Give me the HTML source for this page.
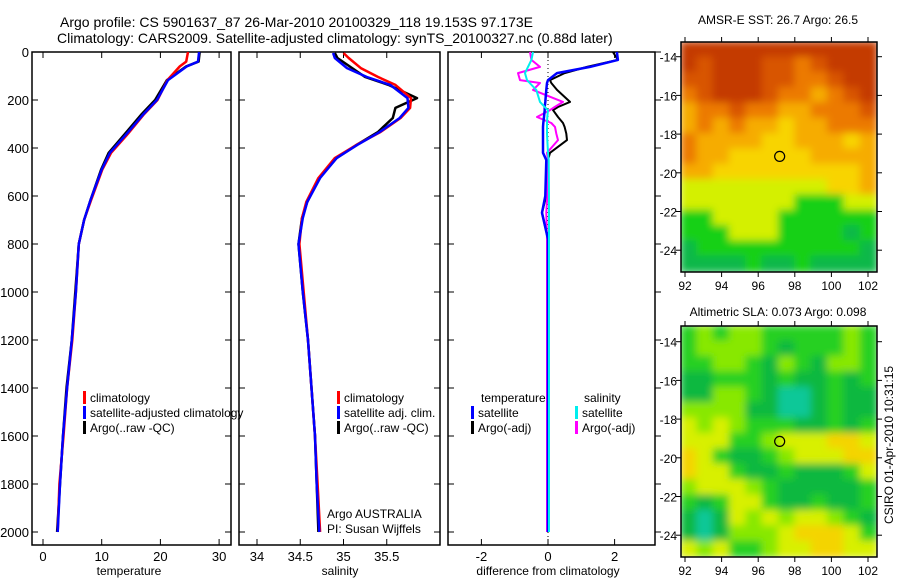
<!DOCTYPE html>
<html><head><meta charset="utf-8"><style>
body{margin:0;background:#fff}
svg text{font-family:"Liberation Sans",sans-serif;fill:#000}
</style></head><body>
<svg id="fig" width="900" height="580" xmlns="http://www.w3.org/2000/svg">
<text x="60" y="27" font-size="14">Argo profile: CS 5901637_87 26-Mar-2010 20100329_118 19.153S 97.173E</text>
<text x="57" y="43" font-size="14">Climatology: CARS2009. Satellite-adjusted climatology: synTS_20100327.nc (0.88d later)</text>
<text x="778" y="24" font-size="12" text-anchor="middle">AMSR-E SST: 26.7 Argo: 26.5</text>
<text x="778" y="316" font-size="12" text-anchor="middle">Altimetric SLA: 0.073 Argo: 0.098</text>
<text transform="translate(893,445) rotate(-90)" font-size="12" text-anchor="middle">CSIRO 01-Apr-2010 10:31:15</text>
<g id="g"></g>
</svg>
<script>
// ---- data ----
const depthTicks=[0,200,400,600,800,1000,1200,1400,1600,1800,2000];
const tempTicks=[0,10,20,30];
const salTicks=[34,34.5,35,35.5];
const diffTicks=[-2,0,2];
const lonTicks=[92,94,96,98,100,102];
const latTicks=[-14,-16,-18,-20,-22,-24];
// temperature profiles
const tDepth=[0,40,60,117,200,262,340,420,490,617,700,800,1000,1200,1400,1600,1800,2000];
const tBlue=[26.6,26.4,24.5,21.3,19.4,17,14.3,11.4,10,8.1,7,6.1,5.6,4.9,4.1,3.4,2.9,2.5];
const tRed=[24.7,24.4,23.3,21.2,19.5,17.1,14.5,11.6,10.1,8.2,7,6.1,5.6,5.0,4.1,3.5,2.8,2.5];
const tBlack=[26.7,26.5,24.4,21.1,19.1,16.7,14.0,11.2,9.9,8.1,7.0,6.1,5.5,4.9,4.0,3.4,2.9,2.4];
// salinity profiles
const sDepth=[4,25,67,104,137,192,233,275,333,387,442,525,625,692,800,1000,1200,1400,1600,1800,2000];
const sBlue=[34.88,34.9,35.04,35.27,35.54,35.74,35.75,35.65,35.42,35.16,34.92,34.73,34.58,34.53,34.48,34.53,34.59,34.63,34.67,34.69,34.72];
const sRed=[35.0,35.06,35.2,35.4,35.6,35.78,35.77,35.66,35.43,35.15,34.9,34.71,34.57,34.52,34.49,34.54,34.59,34.63,34.67,34.7,34.73];
const sBlack=[34.9,34.93,35.1,35.25,35.52,35.85,35.6,35.57,35.4,35.15,34.92,34.72,34.58,34.52,34.48,34.53,34.59,34.63,34.67,34.69,34.71];
// differences from climatology
const dDepth=[0,33,62,88,117,129,158,208,229,242,271,296,312,340,367,420,450,600,670,780,1000,1500,2000];
const dTempSat=[2.07,2.1,1.26,0.27,0.0,-0.03,-0.05,-0.08,-0.1,-0.1,-0.12,-0.14,-0.15,-0.15,-0.15,-0.15,-0.05,-0.08,-0.18,0,0,0,0];
const dTempArgo=[1.95,2.1,1.17,0.5,0.06,0.1,0.27,0.66,0.3,0.15,0.3,0.45,0.5,0.55,0.57,0.06,0,-0.05,-0.18,0,0,-0.02,0];
const dSalSat=[-0.45,-0.5,-0.6,-0.69,-0.63,-0.55,-0.35,-0.24,-0.1,0,-0.02,-0.03,-0.03,-0.03,-0.02,0,0.02,0.03,0.03,0.03,0.03,0.03,0.03];
const dSalArgo=[-0.54,-0.5,-0.24,-0.9,-0.84,-0.24,-0.45,0.45,0.2,0.06,-0.33,0.1,0.21,0.25,0.3,-0.03,0,-0.02,-0.05,-0.03,-0.03,-0.03,-0.03];
// maps (coarse colour classes)
const sstRows=["RRRRRRRRRRRR","RrRRRrrOrRRR","rrRRRrrOOrRR","OrRRRrOOAOrR","AOOrOOAAOOOr","AOAOAAYAAOOO","OAAAAYYAAAYA","OAAYYYYYAAAA","AAYYYYYYYYYA","LLLLLLLLLYYA","LLLLLLLGGGLL","GGLLLLGGGGGG","GGGLLLGGGGDG","DGGGGGGGGGGD","DDDDGDDGDDDD"];
const slaRows=["GLGLLGGGGGLG","GLLLLGDGGGLG","GGLLGDLGDLLG","DDGGGDGDDGDG","DDLLGDTTDGDD","LLLLDDTTDGDD","YLYLGGGDDGDG","YYYGGLYYYAAY","AYGDDGLYYYAA","AYYGDDGDDDGY","LYYYLGDDDDDG","GDGYYGDDGDDG","DTDYLYLYYLGD","DTDLLLYAAAYG","YLYGGLYYAAYY"];
const argoLon=97.173, argoLat=-19.153;

const NS="http://www.w3.org/2000/svg";
const g=document.getElementById('g');
function el(t,a,p){const e=document.createElementNS(NS,t);for(const k in a)e.setAttribute(k,a[k]);(p||g).appendChild(e);return e;}
const yTop=52,yBot=545;
const yD=d=>52+d*0.24;
const panels=[
 {name:'temperature-panel',x0:32,x1:231,f:v=>43+v*5.87,ticks:tempTicks,label:'temperature',lx:129},
 {name:'salinity-panel',x0:239,x1:440,f:v=>257+(v-34)*86.5,ticks:salTicks,label:'salinity',lx:340},
 {name:'difference-panel',x0:448,x1:655,f:v=>548+v*33.3,ticks:diffTicks,label:'difference from climatology',lx:548}
];
panels.forEach((p,i)=>{
 const fr=el('rect',{x:p.x0,y:yTop,width:p.x1-p.x0,height:yBot-yTop,fill:'none',stroke:'#000','stroke-width':1.5});
 
 
 p.ticks.forEach(t=>{
  const x=p.f(t);
  el('line',{x1:x,x2:x,y1:yTop,y2:yTop+6,stroke:'#000'});
  el('line',{x1:x,x2:x,y1:yBot,y2:yBot-6,stroke:'#000'});
  const tx=el('text',{x:x,y:yBot+16,'font-size':13,'text-anchor':'middle'});tx.textContent=t;
  
  
 });
 depthTicks.forEach(d=>{
  const y=yD(d);
  el('line',{x1:p.x0,x2:p.x0+6,y1:y,y2:y,stroke:'#000'});
  if(i<2) el('line',{x1:p.x1,x2:p.x1-6,y1:y,y2:y,stroke:'#000'});
  else el('line',{x1:p.x1,x2:p.x1+6,y1:y,y2:y,stroke:'#000'});
  if(i==0){const tx=el('text',{x:29,y:y+5,'font-size':13,'text-anchor':'end'});tx.textContent=d;
   
   }
 });
 const al=el('text',{x:p.lx,y:575,'font-size':12,'text-anchor':'middle'});al.textContent=p.label;
 
 
});
function line(f,vals,depths,col,w,name){
 const pts=vals.map((v,i)=>f(v).toFixed(1)+','+yD(depths[i]).toFixed(1)).join(' ');
 const e=el('polyline',{points:pts,fill:'none',stroke:col,'stroke-width':w,'stroke-linejoin':'round'});
 
 
}
const P=panels;
line(P[0].f,tBlack,tDepth,'#000',2.5,'temp-argo-line');
line(P[0].f,tRed,tDepth,'#f00',2.5,'temp-climatology-line');
line(P[0].f,tBlue,tDepth,'#00f',2.5,'temp-satellite-line');
line(P[1].f,sBlack,sDepth,'#000',2.5,'sal-argo-line');
line(P[1].f,sRed,sDepth,'#f00',2.5,'sal-climatology-line');
line(P[1].f,sBlue,sDepth,'#00f',2.5,'sal-satellite-line');
el('line',{x1:548,x2:548,y1:yTop,y2:yBot,stroke:'#000','stroke-dasharray':'1,3'});
line(P[2].f,dTempArgo,dDepth,'#000',2,'diff-temp-argo-line');
line(P[2].f,dSalArgo,dDepth,'#f0f',2,'diff-sal-argo-line');
line(P[2].f,dTempSat,dDepth,'#00f',2.5,'diff-temp-satellite-line');
line(P[2].f,dSalSat,dDepth,'#0ee',2,'diff-sal-satellite-line');
// legends
function legend(x,y,col,txt,name){
 el('rect',{x:x,y:y-11,width:3,height:13,fill:col});
 const t=el('text',{x:x+7,y:y,'font-size':12});t.textContent=txt;
 
 
}
legend(83,402,'#f00','climatology','legend-climatology');
legend(83,417,'#00f','satellite-adjusted climatology','legend-satellite-adjusted');
legend(83,432,'#000','Argo(..raw -QC)','legend-argo');
legend(337,402,'#f00','climatology','legend-sal-climatology');
legend(337,417,'#00f','satellite adj. clim.','legend-sal-satellite');
legend(337,432,'#000','Argo(..raw -QC)','legend-sal-argo');
[['temperature',481,402],['salinity',584,402],['Argo AUSTRALIA',327,518],['PI: Susan Wijffels',327,533]].forEach(a=>{
 const t=el('text',{x:a[1],y:a[2],'font-size':12});t.textContent=a[0];
 
 
});
legend(471,417,'#00f','satellite','legend-diff-temp-satellite');
legend(471,432,'#000','Argo(-adj)','legend-diff-temp-argo');
legend(575,417,'#0ee','satellite','legend-diff-sal-satellite');
legend(575,432,'#f0f','Argo(-adj)','legend-diff-sal-argo');
// maps
const pal={R:'#c43a00',r:'#d85400',O:'#ec7a00',A:'#f6ac00',Y:'#f8d400',L:'#d4f000',G:'#18d018',D:'#10b848',T:'#10c890'};
const pal2={G:'#28d020',D:'#10b840',T:'#10c898',L:'#88e800',Y:'#d8f000',A:'#f4d400'};
const defs=el('defs',{});
const flt=el('filter',{id:'bl'},defs);
el('feGaussianBlur',{stdDeviation:4},flt);
function map(rows,pl,x0,y0,w,h,name,tickTop){
 const clip=el('clipPath',{id:'c'+name},defs);
 el('rect',{x:x0,y:y0,width:w,height:h},clip);
 const cg=el('g',{});
 cg.setAttribute('clip-path','url(#c'+name+')');
 const inner=el('g',{filter:'url(#bl)'},cg);
 const cw=w/rows[0].length,ch=h/rows.length;
 rows.forEach((r,ri)=>[...r].forEach((c,ci)=>{
  el('rect',{x:x0+ci*cw-1,y:y0+ri*ch-1,width:cw+2,height:ch+2,fill:pl[c]},inner);
 }));
 
 
 el('rect',{x:x0,y:y0,width:w,height:h,fill:'none',stroke:'#000','stroke-width':1.5});
 const lx=lon=>685+(lon-92)*18.3;
 const ly=lat=>tickTop+(-14-lat)*19.35;
 lonTicks.forEach(l=>{const x=lx(l);
  el('line',{x1:x,x2:x,y1:y0+h,y2:y0+h+5,stroke:'#000'});el('line',{x1:x,x2:x,y1:y0,y2:y0-5,stroke:'#000'});
  const t=el('text',{x:x,y:y0+h+18,'font-size':12,'text-anchor':'middle'});t.textContent=l;
  
  });
 latTicks.forEach(l=>{const y=ly(l);
  el('line',{x1:x0,x2:x0-5,y1:y,y2:y,stroke:'#000'});el('line',{x1:x0+w,x2:x0+w+5,y1:y,y2:y,stroke:'#000'});
  const t=el('text',{x:x0-4,y:y+5,'font-size':12,'text-anchor':'end'});t.textContent=l;
  
  });
 const c=el('circle',{cx:lx(argoLon),cy:ly(argoLat),r:5,fill:'none',stroke:'#000','stroke-width':1.2});
 
 
}
map(sstRows,pal,681,42,196,230,'sst-map',56.7);
map(slaRows,pal2,681,326,196,231,'sla-map',341.7);
</script>
</body></html>
